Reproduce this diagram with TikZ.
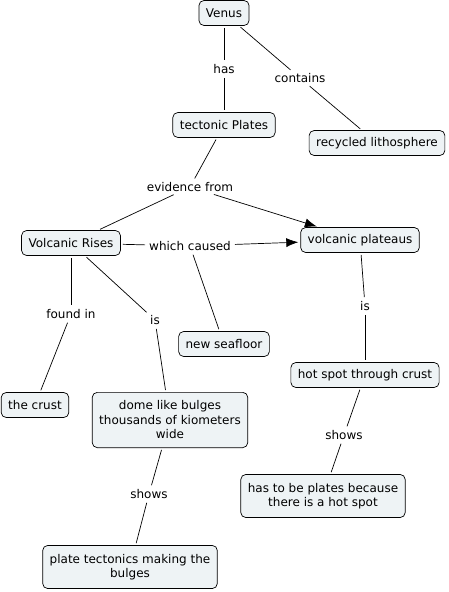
\documentclass[tikz,border=0pt]{standalone}
\usepackage{fontspec}
\setmainfont{DejaVu Sans}
\usetikzlibrary{arrows.meta, positioning}
\definecolor{conceptfill}{HTML}{EEF3F5}

\begin{document}
\begin{tikzpicture}[%
  x=1pt, y=-1pt,%
  concept/.style={rectangle, draw=black, line width=0.7pt, fill=conceptfill, rounded corners=5pt, align=center, inner xsep=7pt, inner ysep=6pt, minimum height=25pt, font=\fontsize{12}{14.5}\selectfont},%
  bigconcept/.style={concept, inner ysep=8.5pt},%
  linkword/.style={inner sep=2pt, align=center, font=\fontsize{12}{14.5}\selectfont},%
  line/.style={draw=black, line width=0.7pt, shorten >=2pt, shorten <=2pt},%
  arrow/.style={line, -{Latex[length=12pt, width=9pt]}}%
]
  \useasboundingbox (0,0) rectangle (448,592);
  % concepts
  \node[concept] (venus) at (224,13) {Venus};
  \node[concept] (plates) at (224,125) {tectonic Plates};
  \node[concept] (litho) at (377,143) {recycled lithosphere};
  \node[concept] (rises) at (71,243) {Volcanic Rises};
  \node[concept] (plateaus) at (360,240) {volcanic plateaus};
  \node[concept] (seafloor) at (224,344) {new seafloor};
  \node[concept] (hotspot) at (365,375) {hot spot through crust};
  \node[concept] (crust) at (35,405) {the crust};
  \node[bigconcept] (dome) at (170,420) {dome like bulges\\thousands of kiometers\\wide};
  \node[bigconcept] (because) at (323,496) {has to be plates because\\there is a hot spot};
  \node[bigconcept] (making) at (130,567) {plate tectonics making the\\bulges};
  % linking words
  \node[linkword] (has) at (224,69) {has};
  \node[linkword] (contains) at (300,78) {contains};
  \node[linkword] (evidence) at (190,187) {evidence from};
  \node[linkword] (caused) at (190,246) {which caused};
  \node[linkword] (isright) at (365,306) {is};
  \node[linkword] (foundin) at (71,314) {found in};
  \node[linkword] (isleft) at (155,320) {is};
  \node[linkword] (showsright) at (344,435) {shows};
  \node[linkword] (showsleft) at (149,494) {shows};
  % connectors
  \draw[line] (venus) -- (has);
  \draw[line] (has) -- (plates);
  \draw[line] (venus) -- (contains);
  \draw[line] (contains) -- (litho);
  \draw[line] (plates) -- (evidence);
  \draw[line] (evidence) -- (rises);
  \draw[arrow] (evidence) -- (plateaus);
  \draw[line] (rises) -- (caused);
  \draw[arrow] (caused) -- (plateaus);
  \draw[line] (caused) -- (seafloor);
  \draw[line] (rises) -- (foundin);
  \draw[line] (foundin) -- (crust);
  \draw[line] (rises) -- (isleft);
  \draw[line] (isleft) -- (dome);
  \draw[line] (plateaus) -- (isright);
  \draw[line] (isright) -- (hotspot);
  \draw[line] (hotspot) -- (showsright);
  \draw[line] (showsright) -- (because);
  \draw[line] (dome) -- (showsleft);
  \draw[line] (showsleft) -- (making);
\end{tikzpicture}
\end{document}
